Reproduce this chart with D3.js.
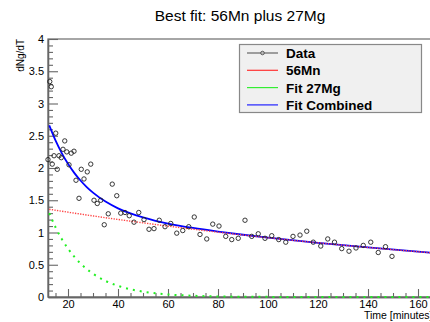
<!DOCTYPE html>
<html>
<head>
<meta charset="utf-8">
<script src="https://cdn.jsdelivr.net/npm/d3@7"></script>
<style>
  body { margin: 0; background: #fff; }
  svg { display: block; font-family: "Liberation Sans", Arial, Helvetica, sans-serif; }
</style>
</head>
<body>
<div id="chart"></div>
<script>
// Measured points (time in minutes, dNg/dT)
const dataTime = [12.0, 12.7, 13.3, 13.7, 14.4, 15.1, 15.7, 16.4, 17.3, 18.0, 18.7, 19.5, 20.4, 21.3, 22.4,
    23.2, 24.4, 25.3, 26.4, 27.7, 29.1, 30.4, 31.7, 33.1, 34.5, 36.1, 37.7, 39.5, 41.1, 42.8, 44.5, 46.4,
    48.3, 50.4, 52.4, 54.4, 56.5, 58.8, 61.1, 63.5, 65.9, 68.3, 70.5, 72.8, 75.5, 77.9, 80.4, 83.1, 85.5,
    88.1, 90.8, 93.5, 96.1, 98.8, 101.5, 104.3, 107.1, 110.0, 112.8, 115.5, 118.1, 121.1, 123.9, 126.6,
    129.5, 132.4, 135.2, 138.1, 141.1, 144.1, 147.0, 149.6];
const dataValue = [2.13, 3.34, 3.26, 2.06, 2.19, 2.54, 1.98, 2.19, 2.16, 2.29, 2.42, 2.25, 2.05, 2.23, 2.26,
    1.81, 1.53, 1.98, 1.83, 1.94, 2.06, 1.50, 1.45, 1.50, 1.12, 1.29, 1.75, 1.57, 1.30, 1.31, 1.26, 1.16,
    1.31, 1.20, 1.05, 1.06, 1.19, 1.09, 1.14, 0.99, 1.03, 1.09, 1.24, 0.97, 0.90, 1.13, 1.10, 0.94, 0.89,
    0.91, 1.19, 0.94, 0.98, 0.91, 0.95, 0.89, 0.85, 0.94, 0.96, 1.02, 0.85, 0.79, 0.90, 0.85,
    0.75, 0.71, 0.76, 0.80, 0.85, 0.69, 0.78, 0.63];

// Fit curves
const fitTime = [12.5, 15, 17.5, 20, 22.5, 25, 27.5, 30, 35, 40, 45, 50, 55, 60, 70, 80, 90, 100, 120, 140, 160, 170];
const fitMn = [1.360, 1.345, 1.330, 1.315, 1.300, 1.286, 1.271, 1.257, 1.229, 1.202, 1.176, 1.150, 1.124, 1.099,
    1.051, 1.005, 0.961, 0.919, 0.840, 0.768, 0.702, 0.672];
const fitMg = [1.300, 1.082, 0.901, 0.750, 0.625, 0.520, 0.433, 0.361, 0.250, 0.173, 0.120, 0.083, 0.058, 0.040,
    0.019, 0.009, 0.004, 0.002, 0.000, 0.000, 0.000, 0.000];
const fitCombined = [2.660, 2.427, 2.231, 2.065, 1.925, 1.806, 1.704, 1.618, 1.479, 1.375, 1.296, 1.233, 1.182, 1.139,
    1.070, 1.014, 0.965, 0.921, 0.840, 0.768, 0.702, 0.672];

const xTicks = [20, 40, 60, 80, 100, 120, 140, 160];
const yTicks = [0, 0.5, 1, 1.5, 2, 2.5, 3, 3.5, 4];
const legendLabels = ["Data", "56Mn", "Fit 27Mg", "Fit Combined"];

const W = 430, H = 322;
const svg = d3.select("#chart").append("svg").attr("width", W).attr("height", H);

const x = d3.scaleLinear().domain([12, 170]).range([48, 443]);
const y = d3.scaleLinear().domain([0, 4]).range([297, 39]);

// Title
svg.append("text")
    .attr("x", 240).attr("y", 21)
    .attr("text-anchor", "middle")
    .attr("font-size", "15.5px")
    .text("Best fit: 56Mn plus 27Mg");

// Frame
svg.append("rect")
    .attr("x", x(12)).attr("y", y(4))
    .attr("width", x(170) - x(12)).attr("height", y(0) - y(4))
    .attr("fill", "none").attr("stroke", "#777").attr("stroke-width", 1.3);

// Minor ticks
const yMinor = d3.range(0, 4.001, 0.1).filter(v => Math.abs(v * 2 - Math.round(v * 2)) > 1e-6);
const xMinor = d3.range(15, 170, 5).filter(v => v % 20 !== 0);

const yMinorAxis = svg.append("g").attr("transform", `translate(${x(12)},0)`)
    .call(d3.axisLeft(y).tickValues(yMinor).tickSizeInner(-5).tickSizeOuter(0).tickFormat(""));
const xMinorAxis = svg.append("g").attr("transform", `translate(0,${y(0)})`)
    .call(d3.axisBottom(x).tickValues(xMinor).tickSizeInner(-4).tickSizeOuter(0).tickFormat(""));

// Major axes
const yAxis = svg.append("g").attr("transform", `translate(${x(12)},0)`)
    .call(d3.axisLeft(y).tickValues(yTicks).tickSizeInner(-10).tickSizeOuter(0).tickPadding(4)
        .tickFormat(d => String(d)));
const xAxis = svg.append("g").attr("transform", `translate(0,${y(0)})`)
    .call(d3.axisBottom(x).tickValues(xTicks).tickSizeInner(-8).tickSizeOuter(0).tickPadding(3)
        .tickFormat(d => String(d)));

[yMinorAxis, xMinorAxis, yAxis, xAxis].forEach(g => {
    g.selectAll("path.domain").attr("stroke", "#666").attr("stroke-width", 1.3);
    g.selectAll(".tick line").attr("stroke", "#666").attr("stroke-width", 1.1);
    g.selectAll(".tick text").attr("fill", "#000").attr("font-size", "11px")
        .attr("font-family", "'Liberation Sans', Arial, Helvetica, sans-serif");
});

// Axis titles
svg.append("text")
    .attr("transform", "translate(24,39) rotate(-90)")
    .attr("text-anchor", "end")
    .attr("font-size", "10px")
    .text("dNg/dT");

svg.append("text")
    .attr("x", 364).attr("y", 319)
    .attr("font-size", "10.5px")
    .text("Time [minutes]");

// Curves
svg.append("clipPath").attr("id", "plot-clip")
    .append("rect")
    .attr("x", x(12)).attr("y", y(4) - 2)
    .attr("width", x(170) - x(12)).attr("height", y(0) - y(4) + 4);

const line = series => d3.line()
    .x((d, i) => x(fitTime[i]))
    .y(d => y(d))
    .curve(d3.curveMonotoneX)(series);

const curves = svg.append("g").attr("clip-path", "url(#plot-clip)");

curves.append("path")
    .attr("d", line(fitMg))
    .attr("fill", "none")
    .attr("stroke", "#22f022")
    .attr("stroke-width", 2)
    .attr("stroke-dasharray", "2,5");

curves.append("path")
    .attr("d", line(fitCombined))
    .attr("fill", "none")
    .attr("stroke", "#0000ff")
    .attr("stroke-width", 1.8);

curves.append("path")
    .attr("d", line(fitMn))
    .attr("fill", "none")
    .attr("stroke", "#ff4444")
    .attr("stroke-width", 1.4)
    .attr("stroke-dasharray", "1.3,1.3");

// Data markers
svg.append("g")
    .selectAll("circle")
    .data(dataTime)
    .join("circle")
    .attr("cx", d => x(d))
    .attr("cy", (d, i) => y(dataValue[i]))
    .attr("r", 2.2)
    .attr("fill", "none")
    .attr("stroke", "#222")
    .attr("stroke-width", 0.9);

// Legend
const legend = svg.append("g");
legend.append("rect")
    .attr("x", 239.5).attr("y", 44.5)
    .attr("width", 182).attr("height", 68)
    .attr("fill", "#f0f0f0")
    .attr("stroke", "#888")
    .attr("stroke-width", 1.2);

const legendColors = ["#666", "#ff3333", "#33ee33", "#2222ff"];
legendLabels.forEach((label, i) => {
    const cy = 53 + i * 17.3;
    legend.append("line")
        .attr("x1", 247).attr("x2", 278)
        .attr("y1", cy).attr("y2", cy)
        .attr("stroke", legendColors[i])
        .attr("stroke-width", 1.2);
    if (i === 0) {
        legend.append("circle")
            .attr("cx", 262.5).attr("cy", cy).attr("r", 1.8)
            .attr("fill", "#bbb").attr("stroke", "#444").attr("stroke-width", 0.8);
    }
    legend.append("text")
        .attr("x", 286).attr("y", cy + 5)
        .attr("font-size", "13.5px")
        .attr("font-weight", "bold")
        .text(label);
});
</script>
</body>
</html>
